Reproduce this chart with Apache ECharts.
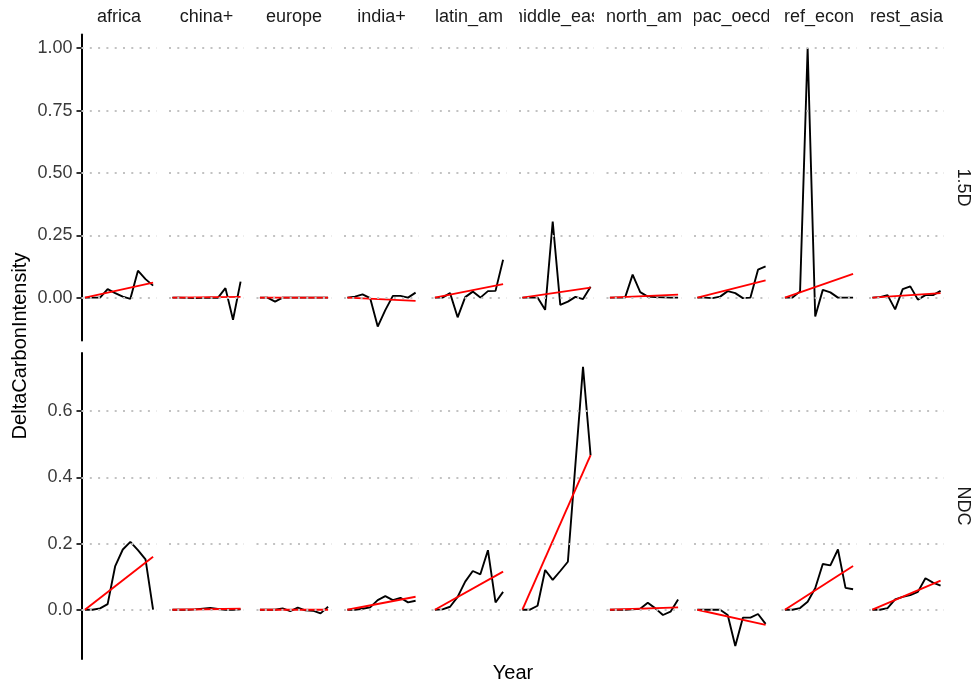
<!DOCTYPE html>
<html>
<head>
<meta charset="utf-8">
<script src="https://cdn.jsdelivr.net/npm/echarts@6/dist/echarts.min.js"></script>
<style>html,body{margin:0;padding:0;background:#fff;}#chart{width:977px;height:689px;}</style>
</head>
<body>
<div id="chart"></div>
<script>
// ---- data ----
const regions = ['africa', 'china+', 'europe', 'india+', 'latin_am', 'middle_east', 'north_am', 'pac_oecd', 'ref_econ', 'rest_asia'];
const scenarios = ['1.5D', 'NDC'];
const years = [2015, 2020, 2025, 2030, 2035, 2040, 2045, 2050, 2055, 2060];

// scenario 1.5D
const d15_africa  = [0, 0, 0, 0.034, 0.018, 0.004, -0.005, 0.108, 0.074, 0.048];
const d15_china   = [0, 0, -0.001, -0.002, -0.001, 0, -0.001, 0.038, -0.089, 0.064];
const d15_europe  = [0, 0, -0.016, 0, 0, 0, 0, 0, 0, 0];
const d15_india   = [0, 0.004, 0.013, -0.002, -0.116, -0.05, 0.007, 0.007, 0, 0.02];
const d15_latin   = [0, 0, 0.018, -0.079, 0.002, 0.024, 0, 0.026, 0.027, 0.152];
const d15_middle  = [0, 0, 0, -0.049, 0.305, -0.029, -0.016, 0.003, -0.006, 0.044];
const d15_north   = [0, 0, 0, 0.092, 0.022, 0.004, 0.002, 0.001, 0, 0];
const d15_pac     = [0, 0, -0.002, 0.004, 0.026, 0.018, -0.002, 0, 0.112, 0.125];
const d15_ref     = [0, 0, 0.025, 1.0, -0.076, 0.031, 0.021, 0, 0, 0];
const d15_rest    = [0, 0.002, 0.01, -0.047, 0.034, 0.045, -0.008, 0.01, 0.01, 0.027];
const trend15_end = [0.06, 0.003, 0, -0.013, 0.054, 0.04, 0.012, 0.069, 0.095, 0.018];

// scenario NDC
const dN_africa  = [0, 0, 0.004, 0.017, 0.132, 0.182, 0.205, 0.18, 0.152, 0];
const dN_china   = [0, 0, 0, 0.001, 0.003, 0.005, 0.002, 0, 0, 0.001];
const dN_europe  = [0, 0, 0, 0.004, -0.004, 0.006, -0.002, -0.003, -0.011, 0.009];
const dN_india   = [0, 0, 0.003, 0.007, 0.029, 0.041, 0.029, 0.036, 0.022, 0.027];
const dN_latin   = [0, 0.001, 0.009, 0.039, 0.085, 0.117, 0.107, 0.18, 0.022, 0.054];
const dN_middle  = [0, 0, 0.012, 0.12, 0.09, 0.117, 0.145, 0.44, 0.734, 0.467];
const dN_north   = [0, 0, 0, 0.001, 0.003, 0.021, 0.004, -0.016, -0.006, 0.031];
const dN_pac     = [0, 0, 0, 0, -0.016, -0.11, -0.024, -0.024, -0.013, -0.043];
const dN_ref     = [0, 0, 0.005, 0.024, 0.065, 0.138, 0.134, 0.182, 0.066, 0.062];
const dN_rest    = [0, 0, 0.005, 0.031, 0.039, 0.044, 0.054, 0.095, 0.082, 0.073];
const trendN_end = [0.16, 0.003, 0, 0.039, 0.115, 0.467, 0.007, -0.046, 0.132, 0.088];

const trendStart = 0;

const ticks15 = [0, 0.25, 0.5, 0.75, 1.0];
const ticksN = [0, 0.2, 0.4, 0.6];

const values15 = [d15_africa, d15_china, d15_europe, d15_india, d15_latin, d15_middle, d15_north, d15_pac, d15_ref, d15_rest];
const valuesN = [dN_africa, dN_china, dN_europe, dN_india, dN_latin, dN_middle, dN_north, dN_pac, dN_ref, dN_rest];

// ---- layout ----
const FONT = '"Liberation Sans", Arial, Helvetica, sans-serif';
const PANEL_LEFT = 81.5, PANEL_W = 75, PANEL_GAP = 12.5;
const rows = [
  { top: 34.5, height: 306, min: -0.172, max: 1.055, ticks: ticks15, digits: 2, values: values15, trend: trend15_end },
  { top: 353, height: 306, min: -0.149, max: 0.776, ticks: ticksN, digits: 1, values: valuesN, trend: trendN_end }
];
const xSpan = years[years.length - 1] - years[0];
const xMin = years[0] - 0.05 * xSpan, xMax = years[years.length - 1] + 0.05 * xSpan;

const grids = [], xAxes = [], yAxes = [], series = [];
rows.forEach((row, r) => {
  regions.forEach((reg, c) => {
    const idx = r * regions.length + c;
    grids.push({ left: PANEL_LEFT + c * (PANEL_W + PANEL_GAP), top: row.top, width: PANEL_W, height: row.height, containLabel: false });
    xAxes.push({ type: 'value', gridIndex: idx, min: xMin, max: xMax, show: false, splitLine: { show: false } });
    yAxes.push({
      type: 'value', gridIndex: idx, min: row.min, max: row.max, show: c === 0,
      axisLine: { show: true, lineStyle: { color: '#000', width: 2 } },
      axisTick: { show: true, length: 5, lineStyle: { color: '#333', width: 2 }, customValues: row.ticks },
      axisLabel: { customValues: row.ticks, formatter: v => Number(v).toFixed(row.digits), fontSize: 18, color: '#3a3a3a', margin: 9, fontFamily: FONT },
      splitLine: { show: false }
    });
    // dotted grid lines
    series.push({
      type: 'line', xAxisIndex: idx, yAxisIndex: idx, data: [], silent: true, z: 1,
      markLine: {
        silent: true, symbol: ['none', 'none'], label: { show: false }, animation: false,
        lineStyle: { color: '#c2c2c2', width: 2, type: [2, 6.3] },
        emphasis: { disabled: true },
        data: row.ticks.map(v => ({ yAxis: v }))
      }
    });
    // data line
    series.push({
      type: 'line', xAxisIndex: idx, yAxisIndex: idx, z: 3, silent: true,
      data: years.map((y, i) => [y, row.values[c][i]]),
      symbol: 'none', showSymbol: false,
      lineStyle: { color: '#000', width: 1.9 }
    });
    // trend line
    series.push({
      type: 'line', xAxisIndex: idx, yAxisIndex: idx, z: 4, silent: true,
      data: [[years[0], trendStart], [years[years.length - 1], row.trend[c]]],
      symbol: 'none', showSymbol: false,
      lineStyle: { color: '#ff0000', width: 1.9 }
    });
  });
});

const graphics = [];
regions.forEach((reg, c) => {
  graphics.push({ type: 'text', z: 10, x: PANEL_LEFT + c * (PANEL_W + PANEL_GAP) + PANEL_W / 2, y: 17.5,
    style: { text: reg, fill: '#1a1a1a', font: '18px ' + FONT, textAlign: 'center', textVerticalAlign: 'middle' } });
});
// clip strip labels at panel edges
for (let c = 0; c < regions.length; c++) {
  graphics.push({ type: 'rect', z: 20, shape: { x: PANEL_LEFT + c * (PANEL_W + PANEL_GAP) + PANEL_W, y: 0, width: PANEL_GAP, height: 33 }, style: { fill: '#fff' } });
}
graphics.push({ type: 'rect', z: 20, shape: { x: 0, y: 0, width: PANEL_LEFT, height: 33 }, style: { fill: '#fff' } });
const rightX = PANEL_LEFT + regions.length * (PANEL_W + PANEL_GAP) - PANEL_GAP + 18.5;
rows.forEach((row, r) => {
  graphics.push({ type: 'text', z: 10, x: rightX, y: row.top + row.height / 2, rotation: -Math.PI / 2,
    style: { text: scenarios[r], fill: '#1a1a1a', font: '18px ' + FONT, textAlign: 'center', textVerticalAlign: 'middle' } });
});
graphics.push({ type: 'text', z: 10, x: 20, y: 346, rotation: Math.PI / 2,
  style: { text: 'DeltaCarbonIntensity', fill: '#000', font: '20px ' + FONT, textAlign: 'center', textVerticalAlign: 'middle' } });
graphics.push({ type: 'text', z: 10, x: 513, y: 673,
  style: { text: 'Year', fill: '#000', font: '20px ' + FONT, textAlign: 'center', textVerticalAlign: 'middle' } });

const chart = echarts.init(document.getElementById('chart'), null, { renderer: 'canvas' });
chart.setOption({
  animation: false,
  backgroundColor: '#fff',
  grid: grids, xAxis: xAxes, yAxis: yAxes, series: series,
  graphic: { elements: graphics }
});
</script>
</body>
</html>
